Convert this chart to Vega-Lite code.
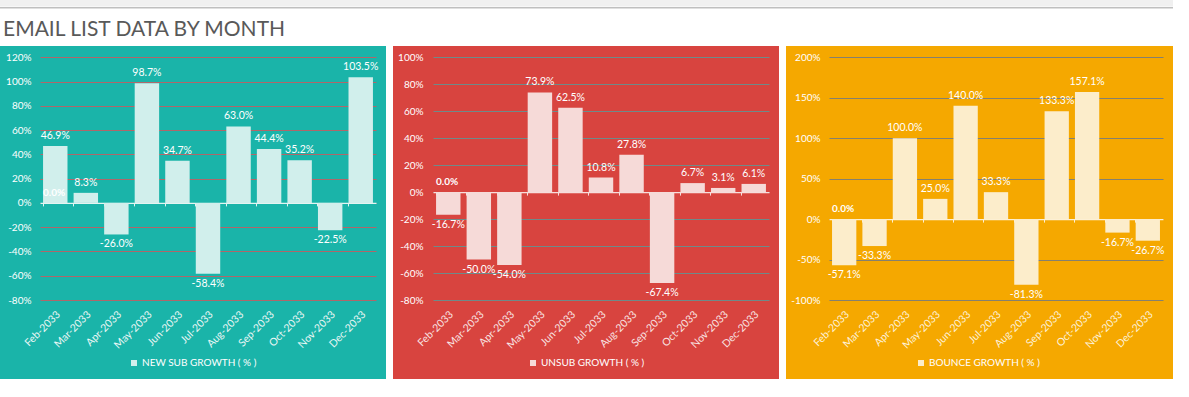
{
  "$schema": "https://vega.github.io/schema/vega-lite/v6.json",
  "padding": 0,
  "background": "#ffffff",
  "config": {
    "font": "Lato",
    "view": {"stroke": null},
    "axis": {"labelFont": "Lato", "titleFont": "Lato"},
    "legend": {"labelFont": "Lato"},
    "locale": {"number": {"decimal": ".", "thousands": ",", "grouping": [3], "currency": ["$", ""], "minus": "-"}}
  },
  "datasets": {
    "growth": [
      {"month": "Feb-2033", "metric": "NEW SUB GROWTH ( % )", "value": 0.469},
      {"month": "Mar-2033", "metric": "NEW SUB GROWTH ( % )", "value": 0.083},
      {"month": "Apr-2033", "metric": "NEW SUB GROWTH ( % )", "value": -0.26},
      {"month": "May-2033", "metric": "NEW SUB GROWTH ( % )", "value": 0.987},
      {"month": "Jun-2033", "metric": "NEW SUB GROWTH ( % )", "value": 0.347},
      {"month": "Jul-2033", "metric": "NEW SUB GROWTH ( % )", "value": -0.584},
      {"month": "Aug-2033", "metric": "NEW SUB GROWTH ( % )", "value": 0.63},
      {"month": "Sep-2033", "metric": "NEW SUB GROWTH ( % )", "value": 0.444},
      {"month": "Oct-2033", "metric": "NEW SUB GROWTH ( % )", "value": 0.352},
      {"month": "Nov-2033", "metric": "NEW SUB GROWTH ( % )", "value": -0.225},
      {"month": "Dec-2033", "metric": "NEW SUB GROWTH ( % )", "value": 1.035},
      {"month": "Feb-2033", "metric": "UNSUB GROWTH ( % )", "value": -0.167},
      {"month": "Mar-2033", "metric": "UNSUB GROWTH ( % )", "value": -0.5},
      {"month": "Apr-2033", "metric": "UNSUB GROWTH ( % )", "value": -0.54},
      {"month": "May-2033", "metric": "UNSUB GROWTH ( % )", "value": 0.739},
      {"month": "Jun-2033", "metric": "UNSUB GROWTH ( % )", "value": 0.625},
      {"month": "Jul-2033", "metric": "UNSUB GROWTH ( % )", "value": 0.108},
      {"month": "Aug-2033", "metric": "UNSUB GROWTH ( % )", "value": 0.278},
      {"month": "Sep-2033", "metric": "UNSUB GROWTH ( % )", "value": -0.674},
      {"month": "Oct-2033", "metric": "UNSUB GROWTH ( % )", "value": 0.067},
      {"month": "Nov-2033", "metric": "UNSUB GROWTH ( % )", "value": 0.031},
      {"month": "Dec-2033", "metric": "UNSUB GROWTH ( % )", "value": 0.061},
      {"month": "Feb-2033", "metric": "BOUNCE GROWTH ( % )", "value": -0.571},
      {"month": "Mar-2033", "metric": "BOUNCE GROWTH ( % )", "value": -0.333},
      {"month": "Apr-2033", "metric": "BOUNCE GROWTH ( % )", "value": 1.0},
      {"month": "May-2033", "metric": "BOUNCE GROWTH ( % )", "value": 0.25},
      {"month": "Jun-2033", "metric": "BOUNCE GROWTH ( % )", "value": 1.4},
      {"month": "Jul-2033", "metric": "BOUNCE GROWTH ( % )", "value": 0.333},
      {"month": "Aug-2033", "metric": "BOUNCE GROWTH ( % )", "value": -0.813},
      {"month": "Sep-2033", "metric": "BOUNCE GROWTH ( % )", "value": 1.333},
      {"month": "Oct-2033", "metric": "BOUNCE GROWTH ( % )", "value": 1.571},
      {"month": "Nov-2033", "metric": "BOUNCE GROWTH ( % )", "value": -0.167},
      {"month": "Dec-2033", "metric": "BOUNCE GROWTH ( % )", "value": -0.267}
    ],
    "zero": [
      {"month": "Feb-2033", "metric": "NEW SUB GROWTH ( % )", "value": 0},
      {"month": "Feb-2033", "metric": "UNSUB GROWTH ( % )", "value": 0},
      {"month": "Feb-2033", "metric": "BOUNCE GROWTH ( % )", "value": 0}
    ],
    "empty": []
  },
  "spacing": 10,
  "vconcat": [
    {
      "spacing": 0,
      "vconcat": [
        {
          "width": 1173, "height": 6.5,
          "view": {"fill": "#f0f0f0", "stroke": null},
          "data": {"name": "empty"},
          "mark": {"type": "rule"},
          "encoding": {}
        },
        {
          "width": 1173, "height": 1.5,
          "view": {"fill": "#bfbfbf", "stroke": null},
          "data": {"name": "empty"},
          "mark": {"type": "rule"},
          "encoding": {}
        }
      ]
    },
    {
      "title": {"text": "EMAIL LIST DATA BY MONTH", "anchor": "start", "frame": "group", "fontSize": 21, "fontWeight": "normal", "font": "Lato", "color": "#595959", "dx": 3, "offset": 6},
      "bounds": "flush",
      "spacing": 7,
      "resolve": {"scale": {"color": "independent"}, "legend": {"color": "independent"}},
      "hconcat": [
        {
          "width": 386, "height": 333,
          "view": {"fill": "#1ab4a9", "stroke": null},
          "resolve": {"axis": {"x": "independent"}},
          "encoding": {
            "y": {"field": "value", "type": "quantitative",
              "scale": {"domain": [-0.8, 1.2], "range": [254, 11.3], "nice": false, "zero": false},
              "axis": {"values": [-0.8,-0.6,-0.4,-0.2,0,0.2,0.4,0.6,0.8,1.0,1.2], "format": ".0%", "offset": -40, "domain": false, "ticks": false, "labelPadding": 9, "grid": true, "gridColor": "#b0676a", "gridWidth": 1.2, "title": null, "labelColor": "#ffffff", "labelFontSize": 10}}
          },
          "layer": [
            {
              "data": {"name": "growth"},
              "transform": [{"filter": "datum.metric === 'NEW SUB GROWTH ( % )'"}],
              "mark": {"type": "bar"},
              "encoding": {
                "x": {"field": "month", "type": "ordinal", "sort": null,
                  "scale": {"domain": ["Feb-2033","Mar-2033","Apr-2033","May-2033","Jun-2033","Jul-2033","Aug-2033","Sep-2033","Oct-2033","Nov-2033","Dec-2033"], "range": [40, 376], "paddingInner": 0.2, "paddingOuter": 0.1},
                  "axis": {"orient": "bottom", "offset": -74, "labelPadding": 4, "labelAngle": -45, "domain": false, "ticks": false, "grid": false, "title": null, "labelFontSize": 10.5, "labelColor": "#eaf7f5", "labelOverlap": false}},
                "color": {"field": "metric", "type": "nominal",
                  "scale": {"range": ["#d1efec"]},
                  "legend": {"orient": "none", "legendX": 129, "legendY": 312, "title": null, "symbolType": "square", "symbolSize": 36, "symbolStrokeWidth": 0, "labelColor": "#ffffff", "labelFontSize": 10, "labelOffset": 3}}
              }
            },
            {
              "data": {"name": "zero"},
              "transform": [{"filter": "datum.metric === 'NEW SUB GROWTH ( % )'"}],
              "mark": {"type": "text", "align": "left", "baseline": "middle", "dy": -10, "fontWeight": "bold", "fontSize": 10, "color": "#ffffff"},
              "encoding": {
                "x": {"field": "month", "type": "ordinal", "sort": null, "bandPosition": 0,
                  "scale": {"domain": ["Feb-2033","Mar-2033","Apr-2033","May-2033","Jun-2033","Jul-2033","Aug-2033","Sep-2033","Oct-2033","Nov-2033","Dec-2033"], "range": [40, 376], "paddingInner": 0.2, "paddingOuter": 0.1},
                  "axis": {"orient": "top", "offset": -156.9, "labels": false, "domain": true, "domainColor": "#e4f4f2", "domainWidth": 1.2, "ticks": true, "tickColor": "#e4f4f2", "tickSize": -3, "bandPosition": 0, "grid": false, "title": null}},
                "text": {"field": "value", "type": "quantitative", "format": ".1%"}
              }
            },
            {
              "data": {"name": "growth"},
              "transform": [{"filter": "datum.metric === 'NEW SUB GROWTH ( % )' && datum.value >= 0"}],
              "mark": {"type": "text", "baseline": "bottom", "dy": -5, "fontSize": 10.5, "color": "#ffffff"},
              "encoding": {
                "x": {"field": "month", "type": "ordinal", "sort": null, "axis": null},
                "text": {"field": "value", "type": "quantitative", "format": ".1%"}
              }
            },
            {
              "data": {"name": "growth"},
              "transform": [{"filter": "datum.metric === 'NEW SUB GROWTH ( % )' && datum.value < 0"}],
              "mark": {"type": "text", "baseline": "top", "dy": 5, "fontSize": 10.5, "color": "#ffffff"},
              "encoding": {
                "x": {"field": "month", "type": "ordinal", "sort": null, "axis": null},
                "text": {"field": "value", "type": "quantitative", "format": ".1%"}
              }
            }
          ]
        },
        {
          "width": 386, "height": 333,
          "view": {"fill": "#d8443f", "stroke": null},
          "resolve": {"axis": {"x": "independent"}},
          "encoding": {
            "y": {"field": "value", "type": "quantitative",
              "scale": {"domain": [-0.8, 1.0], "range": [254, 11.3], "nice": false, "zero": false},
              "axis": {"values": [-0.8,-0.6,-0.4,-0.2,0,0.2,0.4,0.6,0.8,1.0], "format": ".0%", "offset": -40, "domain": false, "ticks": false, "labelPadding": 10, "grid": true, "gridColor": "#6f8a89", "gridWidth": 1.2, "title": null, "labelColor": "#ffffff", "labelFontSize": 10}}
          },
          "layer": [
            {
              "data": {"name": "growth"},
              "transform": [{"filter": "datum.metric === 'UNSUB GROWTH ( % )'"}],
              "mark": {"type": "bar"},
              "encoding": {
                "x": {"field": "month", "type": "ordinal", "sort": null,
                  "scale": {"domain": ["Feb-2033","Mar-2033","Apr-2033","May-2033","Jun-2033","Jul-2033","Aug-2033","Sep-2033","Oct-2033","Nov-2033","Dec-2033"], "range": [40, 376], "paddingInner": 0.2, "paddingOuter": 0.1},
                  "axis": {"orient": "bottom", "offset": -74, "labelPadding": 4, "labelAngle": -45, "domain": false, "ticks": false, "grid": false, "title": null, "labelFontSize": 10.5, "labelColor": "#f8e3e2", "labelOverlap": false}},
                "color": {"field": "metric", "type": "nominal",
                  "scale": {"range": ["#f6dad8"]},
                  "legend": {"orient": "none", "legendX": 135, "legendY": 312, "title": null, "symbolType": "square", "symbolSize": 36, "symbolStrokeWidth": 0, "labelColor": "#ffffff", "labelFontSize": 10, "labelOffset": 3}}
              }
            },
            {
              "data": {"name": "zero"},
              "transform": [{"filter": "datum.metric === 'UNSUB GROWTH ( % )'"}],
              "mark": {"type": "text", "align": "left", "baseline": "middle", "dy": -10, "fontWeight": "bold", "fontSize": 10, "color": "#ffffff"},
              "encoding": {
                "x": {"field": "month", "type": "ordinal", "sort": null, "bandPosition": 0,
                  "scale": {"domain": ["Feb-2033","Mar-2033","Apr-2033","May-2033","Jun-2033","Jul-2033","Aug-2033","Sep-2033","Oct-2033","Nov-2033","Dec-2033"], "range": [40, 376], "paddingInner": 0.2, "paddingOuter": 0.1},
                  "axis": {"orient": "top", "offset": -146.1, "labels": false, "domain": true, "domainColor": "#f6dedc", "domainWidth": 1.2, "ticks": true, "tickColor": "#f6dedc", "tickSize": -3, "bandPosition": 0, "grid": false, "title": null}},
                "text": {"field": "value", "type": "quantitative", "format": ".1%"}
              }
            },
            {
              "data": {"name": "growth"},
              "transform": [{"filter": "datum.metric === 'UNSUB GROWTH ( % )' && datum.value >= 0"}],
              "mark": {"type": "text", "baseline": "bottom", "dy": -5, "fontSize": 10.5, "color": "#ffffff"},
              "encoding": {
                "x": {"field": "month", "type": "ordinal", "sort": null, "axis": null},
                "text": {"field": "value", "type": "quantitative", "format": ".1%"}
              }
            },
            {
              "data": {"name": "growth"},
              "transform": [{"filter": "datum.metric === 'UNSUB GROWTH ( % )' && datum.value < 0"}],
              "mark": {"type": "text", "baseline": "top", "dy": 5, "fontSize": 10.5, "color": "#ffffff"},
              "encoding": {
                "x": {"field": "month", "type": "ordinal", "sort": null, "axis": null},
                "text": {"field": "value", "type": "quantitative", "format": ".1%"}
              }
            }
          ]
        },
        {
          "width": 387, "height": 333,
          "view": {"fill": "#f5a800", "stroke": null},
          "resolve": {"axis": {"x": "independent"}},
          "encoding": {
            "y": {"field": "value", "type": "quantitative",
              "scale": {"domain": [-1, 2], "range": [254, 11.3], "nice": false, "zero": false},
              "axis": {"values": [-1, -0.5, 0, 0.5, 1, 1.5, 2], "format": ".0%", "offset": -43, "domain": false, "ticks": false, "labelPadding": 9, "grid": true, "gridColor": "#84806f", "gridWidth": 1.2, "title": null, "labelColor": "#ffffff", "labelFontSize": 10}}
          },
          "layer": [
            {
              "data": {"name": "growth"},
              "transform": [{"filter": "datum.metric === 'BOUNCE GROWTH ( % )'"}],
              "mark": {"type": "bar"},
              "encoding": {
                "x": {"field": "month", "type": "ordinal", "sort": null,
                  "scale": {"domain": ["Feb-2033","Mar-2033","Apr-2033","May-2033","Jun-2033","Jul-2033","Aug-2033","Sep-2033","Oct-2033","Nov-2033","Dec-2033"], "range": [43, 377], "paddingInner": 0.2, "paddingOuter": 0.1},
                  "axis": {"orient": "bottom", "offset": -74, "labelPadding": 4, "labelAngle": -45, "domain": false, "ticks": false, "grid": false, "title": null, "labelFontSize": 10.5, "labelColor": "#fdf1d8", "labelOverlap": false}},
                "color": {"field": "metric", "type": "nominal",
                  "scale": {"range": ["#fcedcb"]},
                  "legend": {"orient": "none", "legendX": 130, "legendY": 312, "title": null, "symbolType": "square", "symbolSize": 36, "symbolStrokeWidth": 0, "labelColor": "#ffffff", "labelFontSize": 10, "labelOffset": 3}}
              }
            },
            {
              "data": {"name": "zero"},
              "transform": [{"filter": "datum.metric === 'BOUNCE GROWTH ( % )'"}],
              "mark": {"type": "text", "align": "left", "baseline": "middle", "dy": -10, "fontWeight": "bold", "fontSize": 10, "color": "#ffffff"},
              "encoding": {
                "x": {"field": "month", "type": "ordinal", "sort": null, "bandPosition": 0,
                  "scale": {"domain": ["Feb-2033","Mar-2033","Apr-2033","May-2033","Jun-2033","Jul-2033","Aug-2033","Sep-2033","Oct-2033","Nov-2033","Dec-2033"], "range": [43, 377], "paddingInner": 0.2, "paddingOuter": 0.1},
                  "axis": {"orient": "top", "offset": -173.1, "labels": false, "domain": true, "domainColor": "#fdf0d4", "domainWidth": 1.2, "ticks": true, "tickColor": "#fdf0d4", "tickSize": -3, "bandPosition": 0, "grid": false, "title": null}},
                "text": {"field": "value", "type": "quantitative", "format": ".1%"}
              }
            },
            {
              "data": {"name": "growth"},
              "transform": [{"filter": "datum.metric === 'BOUNCE GROWTH ( % )' && datum.value >= 0"}],
              "mark": {"type": "text", "baseline": "bottom", "dy": -5, "fontSize": 10.5, "color": "#ffffff"},
              "encoding": {
                "x": {"field": "month", "type": "ordinal", "sort": null, "axis": null},
                "text": {"field": "value", "type": "quantitative", "format": ".1%"}
              }
            },
            {
              "data": {"name": "growth"},
              "transform": [{"filter": "datum.metric === 'BOUNCE GROWTH ( % )' && datum.value < 0"}],
              "mark": {"type": "text", "baseline": "top", "dy": 5, "fontSize": 10.5, "color": "#ffffff"},
              "encoding": {
                "x": {"field": "month", "type": "ordinal", "sort": null, "axis": null},
                "text": {"field": "value", "type": "quantitative", "format": ".1%"}
              }
            }
          ]
        }
      ]
    }
  ]
}
